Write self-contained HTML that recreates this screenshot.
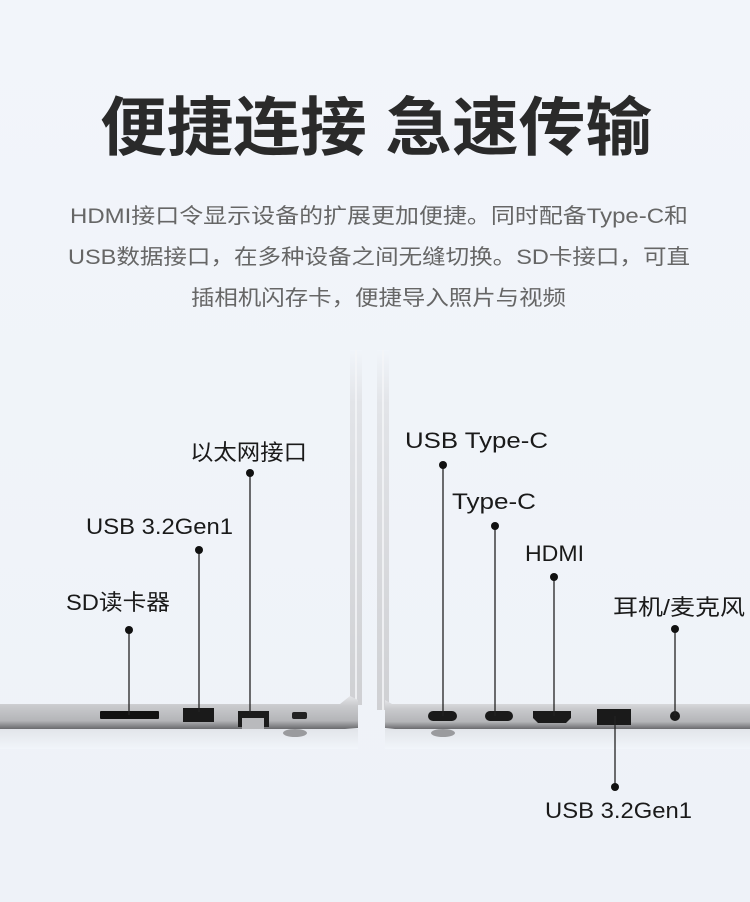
<!DOCTYPE html>
<html><head><meta charset="utf-8">
<style>
html,body{margin:0;padding:0;background:#f1f5fa;}
svg{display:block}
text{font-family:"Liberation Sans","Noto Sans CJK SC",sans-serif;}
</style></head>
<body>
<svg width="750" height="902" viewBox="0 0 750 902" xmlns="http://www.w3.org/2000/svg">
<defs>
<linearGradient id="bg" x1="0" y1="0" x2="0" y2="1">
<stop offset="0" stop-color="#f2f5fa"/><stop offset="1" stop-color="#eef2f8"/>
</linearGradient>
<linearGradient id="body" x1="0" y1="0" x2="0" y2="1">
<stop offset="0" stop-color="#e4e5e8"/><stop offset="0.3" stop-color="#c9cacd"/><stop offset="0.75" stop-color="#b4b5b8"/><stop offset="1" stop-color="#6a6b6e"/>
</linearGradient>
<linearGradient id="lid" x1="0" y1="0" x2="0" y2="1">
<stop offset="0" stop-color="#f1f5fa"/><stop offset="0.15" stop-color="#e2e4e8"/><stop offset="1" stop-color="#cfd0d3"/>
</linearGradient>
<linearGradient id="refl" x1="0" y1="0" x2="0" y2="1">
<stop offset="0" stop-color="#e2e5ea"/><stop offset="1" stop-color="#f1f5fa"/>
</linearGradient>
</defs>
<rect width="750" height="902" fill="url(#bg)"/>

<text x="376" y="150" text-anchor="middle" font-size="64" font-weight="bold" fill="#2a2a2a" textLength="552" lengthAdjust="spacingAndGlyphs">便捷连接 急速传输</text>

<g font-size="21" fill="#666">
<text x="70" y="223" textLength="618" lengthAdjust="spacingAndGlyphs">HDMI接口令显示设备的扩展更加便捷。同时配备Type-C和</text>
<text x="68" y="264" textLength="622" lengthAdjust="spacingAndGlyphs">USB数据接口，在多种设备之间无缝切换。SD卡接口，可直</text>
<text x="191" y="305" textLength="375" lengthAdjust="spacingAndGlyphs">插相机闪存卡，便捷导入照片与视频</text>
</g>

<!-- lids -->
<rect x="350" y="350" width="12" height="355" fill="url(#lid)"/>
<rect x="355" y="350" width="2" height="355" fill="#f4f5f7" opacity="0.8"/>
<rect x="377" y="350" width="12" height="360" fill="url(#lid)"/>
<rect x="382" y="350" width="2" height="360" fill="#f4f5f7" opacity="0.8"/>

<!-- left body -->
<path d="M0 704 L340 704 L350 696 L358 700 L358 728 L345 729 L0 729 Z" fill="url(#body)"/>
<rect x="0" y="729" width="358" height="20" fill="url(#refl)"/>
<ellipse cx="295" cy="733" rx="12" ry="4" fill="#9a9b9e"/>
<rect x="100" y="711" width="59" height="8" rx="1" fill="#111"/>
<rect x="183" y="708" width="31" height="14" fill="#1a1a1a"/>
<rect x="238" y="711" width="31" height="16" fill="#1c1c1c"/>
<rect x="242" y="718" width="22" height="11" fill="#b9babd"/>
<rect x="292" y="712" width="15" height="7" rx="2" fill="#222"/>

<!-- right body -->
<path d="M385 700 L392 704 L750 704 L750 729 L395 729 L385 728 Z" fill="url(#body)"/>
<rect x="385" y="729" width="365" height="20" fill="url(#refl)"/>
<ellipse cx="443" cy="733" rx="12" ry="4" fill="#9a9b9e"/>
<rect x="428" y="711" width="29" height="10" rx="5" fill="#1a1a1a"/>
<rect x="485" y="711" width="28" height="10" rx="5" fill="#1a1a1a"/>
<path d="M533 711 L571 711 L571 718 L566 723 L538 723 L533 718 Z" fill="#1a1a1a"/>
<rect x="597" y="709" width="34" height="16" fill="#1a1a1a"/>
<circle cx="675" cy="716" r="5" fill="#1a1a1a"/>

<!-- connectors -->
<g stroke="#222" stroke-width="1.3" fill="none">
<line x1="250" y1="473" x2="250" y2="713"/>
<line x1="199" y1="550" x2="199" y2="712"/>
<line x1="129" y1="630" x2="129" y2="715"/>
<line x1="443" y1="465" x2="443" y2="716"/>
<line x1="495" y1="526" x2="495" y2="716"/>
<line x1="554" y1="577" x2="554" y2="716"/>
<line x1="675" y1="629" x2="675" y2="716"/>
<line x1="615" y1="716" x2="615" y2="787"/>
</g>
<g fill="#111">
<circle cx="250" cy="473" r="4"/>
<circle cx="199" cy="550" r="4"/>
<circle cx="129" cy="630" r="4"/>
<circle cx="443" cy="465" r="4"/>
<circle cx="495" cy="526" r="4"/>
<circle cx="554" cy="577" r="4"/>
<circle cx="675" cy="629" r="4"/>
<circle cx="615" cy="787" r="4"/>
</g>

<g font-size="22" fill="#1a1a1a">
<text x="190" y="460" textLength="117" lengthAdjust="spacingAndGlyphs">以太网接口</text>
<text x="86" y="534" textLength="147" lengthAdjust="spacingAndGlyphs">USB 3.2Gen1</text>
<text x="66" y="610" textLength="104" lengthAdjust="spacingAndGlyphs">SD读卡器</text>
<text x="405" y="448" textLength="143" lengthAdjust="spacingAndGlyphs">USB Type-C</text>
<text x="452" y="509" textLength="84" lengthAdjust="spacingAndGlyphs">Type-C</text>
<text x="525" y="561" textLength="59" lengthAdjust="spacingAndGlyphs">HDMI</text>
<text x="613" y="615" textLength="132" lengthAdjust="spacingAndGlyphs">耳机/麦克风</text>
<text x="545" y="818" textLength="147" lengthAdjust="spacingAndGlyphs">USB 3.2Gen1</text>
</g>
</svg>
</body></html>
